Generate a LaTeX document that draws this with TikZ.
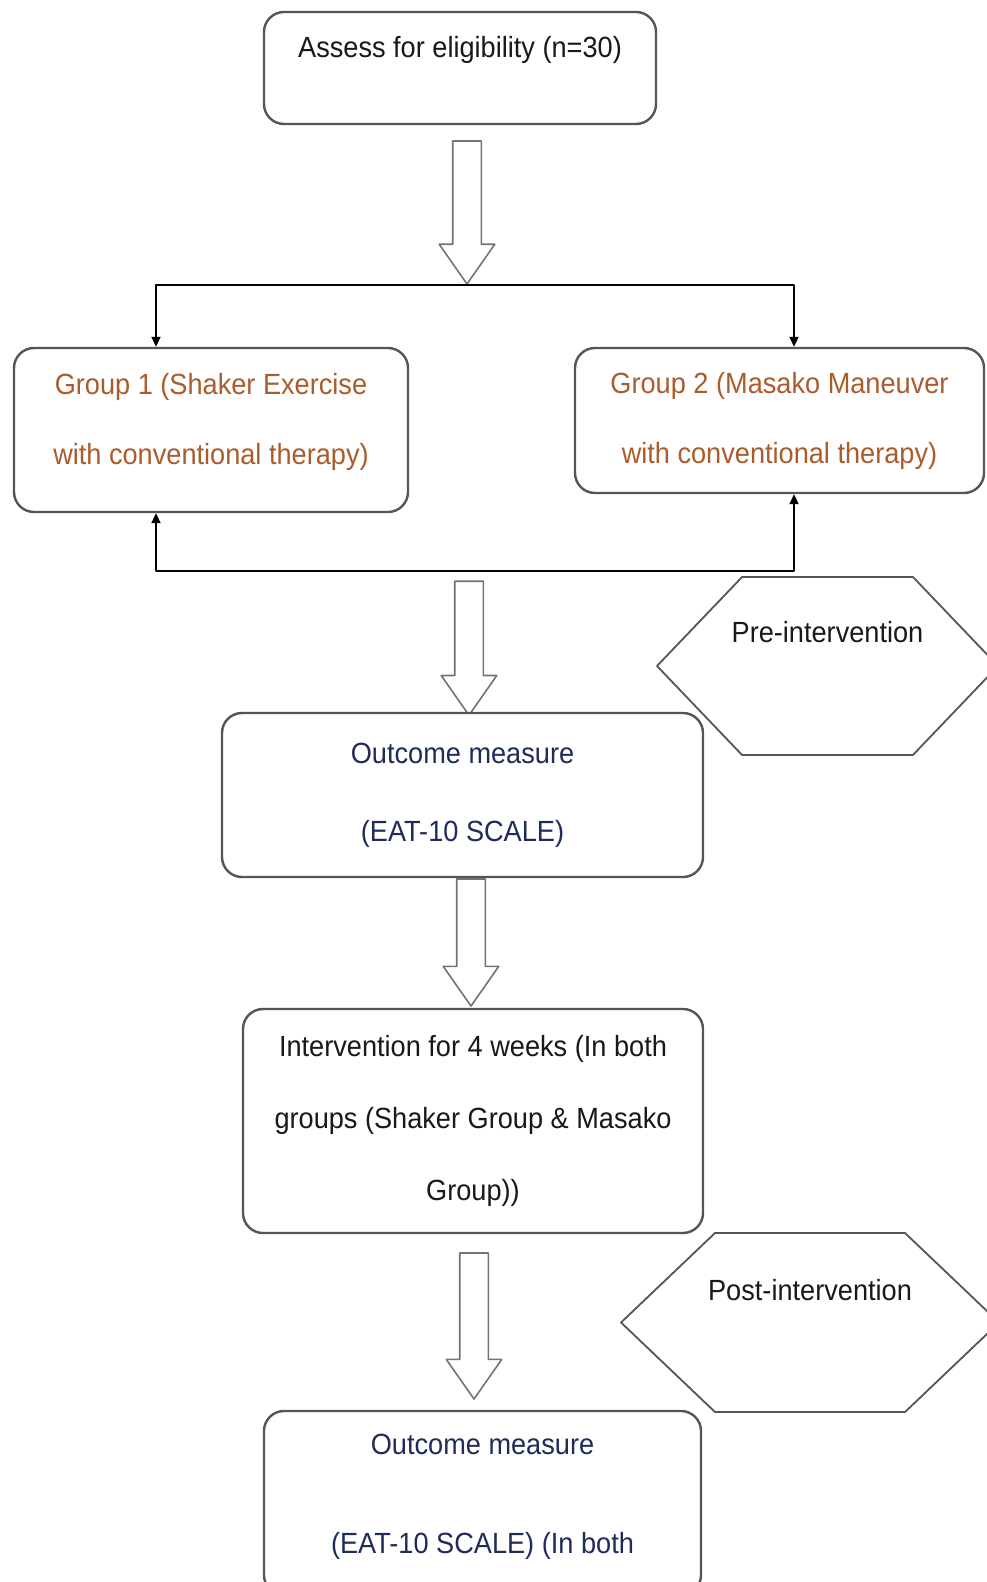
\documentclass[tikz,border=0pt]{standalone}
\usepackage{fontspec}
\setmainfont{Liberation Sans}[FakeStretch=0.93]
\usetikzlibrary{arrows.meta,positioning,shapes.arrows,shapes.symbols}
\definecolor{grouptext}{RGB}{170,92,44}
\definecolor{measuretext}{RGB}{30,44,92}
\definecolor{frame}{RGB}{85,85,85}

\begin{document}
\begin{tikzpicture}[>={Triangle[length=5pt,width=4.5pt]},
    on grid, line join=round,
    every node/.style={font=\fontsize{14.6pt}{35pt}\selectfont, align=center, text=black!90},
    box/.style={draw=frame, line width=1.2pt, rounded corners=10pt, fill=white},
    hexa/.style={signal, signal to=west and east, draw=frame, line width=0.9pt, text height=11pt},
    hollow/.style={single arrow, shape border rotate=270, draw=black!55, line width=0.8pt,
        fill=white, inner sep=6.75pt, minimum width=27pt, anchor=north,
        single arrow head extend=6.75pt, single arrow tip angle=70},
    conn/.style={draw=black, line width=1pt}]
  \useasboundingbox (0,0) rectangle (493pt,-791pt);

  \node[box, minimum width=196pt, minimum height=56pt, text height=11pt, text depth=21.6pt]
      (assess) at (230pt,-34pt) {Assess for eligibility (n=30)};
  \node[hollow, minimum height=71.5pt] (arr1) at ([xshift=3.5pt,yshift=-7.5pt]assess.south) {};
  \node[box, text=grouptext, minimum width=197pt, minimum height=82pt]
      (group1) [below left=181pt and 124.5pt of assess]
      {Group 1 (Shaker Exercise\\with conventional therapy)\\[-24pt]\mbox{}};
  \node[box, text=grouptext, minimum width=204.5pt, minimum height=72.5pt]
      (group2) [below right=176.25pt and 159.75pt of assess]
      {Group 2 (Masako Maneuver\\with conventional therapy)};
  \node[hollow, minimum height=67pt] (arr2) at ([xshift=1pt,yshift=-147.5pt]arr1.south) {};
  \node[box, text=measuretext, minimum width=240.5pt, minimum height=82pt]
      (premeasure) [below right=363.5pt and 1.25pt of assess]
      {Outcome measure\\[4pt](EAT-10 SCALE)};
  \node[hexa, minimum width=170.5pt, minimum height=89pt, signal pointer angle=92.6, text depth=34.6pt]
      (prehex) [above right=64.5pt and 182.5pt of premeasure] {\makebox[0pt]{Pre-intervention}};
  \node[hollow, minimum height=63.5pt] (arr3) at ([xshift=4.25pt]premeasure.south) {};
  \node[box, minimum width=230pt, minimum height=112pt]
      (intervention) [below right=163pt and 5.25pt of premeasure]
      {Intervention for 4 weeks (In both\\[1pt]groups (Shaker Group \& Masako\\[1pt]Group))};
  \node[hollow, minimum height=73pt] (arr4) at ([xshift=0.5pt,yshift=-9pt]intervention.south) {};
  \node[hexa, minimum width=189pt, minimum height=89.5pt, signal pointer angle=87.2, text depth=33.1pt]
      (posthex) [below right=100.75pt and 168.5pt of intervention] {\makebox[0pt]{Post-intervention}};
  \node[box, text=measuretext, minimum width=218.5pt, minimum height=92pt]
      (postmeasure) [below right=191pt and 4.75pt of intervention]
      {Outcome measure\\[14.5pt](EAT-10 SCALE) (In both\\[-26pt]\mbox{}};

  \coordinate (split) at (arr1.south);
  \coordinate[above=4.5pt of arr2.north] (merge);
  \draw[conn,<->] ([xshift=-27.5pt]group1.north) |- (split) -| ([xshift=7.25pt]group2.north);
  \draw[conn,<->] ([xshift=-27.5pt]group1.south) |- (merge) -| ([xshift=7.25pt]group2.south);
\end{tikzpicture}
\end{document}
